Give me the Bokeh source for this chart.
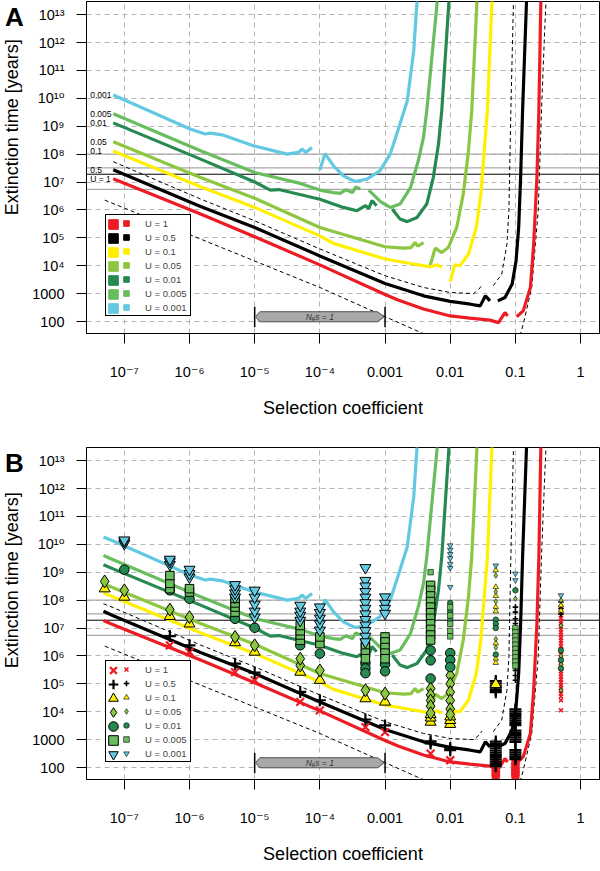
import numpy as np
from bokeh.plotting import figure
from bokeh.models import (Legend, LegendItem, FixedTicker, CustomJSTickFormatter,
                          Span, Range1d)
from bokeh.layouts import column, row
from bokeh.embed import file_html
from bokeh.resources import INLINE
from bokeh.core.properties import value

FONT = "Liberation Sans"
TICK_FONT = "Liberation Sans, DejaVu Sans"
nan = float("nan")

# ---------------- categories / ticks ----------------
u_values = ["1", "0.5", "0.1", "0.05", "0.01", "0.005", "0.001"]
u_colors = ["#ED1C24", "#000000", "#FFF000", "#8DC63F", "#268A50", "#6ABD5E", "#63C9E0"]
u_markers = ["x", "cross", "triangle", "diamond", "circle", "square", "inverted_triangle"]

x_tick_exp = [-7, -6, -5, -4, -3, -2, -1, 0]
x_tick_labels = ["10⁻⁷", "10⁻⁶", "10⁻⁵", "10⁻⁴", "0.001", "0.01", "0.1", "1"]
y_tick_exp = [2, 3, 4, 5, 6, 7, 8, 9, 10, 11, 12, 13]
y_tick_labels = ["100", "1000", "10⁴", "10⁵", "10⁶", "10⁷", "10⁸", "10⁹",
                 "10¹⁰", "10¹¹", "10¹²", "10¹³"]
x_lim_exp = [-7.58, 0.29]
y_lim_exp = [1.57, 13.47]

# ---------------- curves: log10(s), log10(T) ----------------
# first point = start of panel B, panel A starts at the second point
log_s_u1 = [-7.32, -7.17, -5.83, -5.0, -4.0, -3.0, -2.8, -2.41, -2.0, -1.7, -1.39, -1.26, -1.16, -1.12, nan,
            -0.98, -0.88, -0.77, -0.72, -0.67, -0.64, -0.61, -0.59]
log_T_u1 = [7.27, 7.12, 5.85, 5.04, 4.03, 2.97, 2.77, 2.45, 2.2, 2.12, 2.05, 1.96, 2.32, 2.2, nan,
            2.17, 2.38, 3.22, 4.77, 7.16, 9.55, 13.46, 14.0]
log_s_u05 = [-7.32, -7.17, -5.83, -5.0, -4.0, -3.0, -2.41, -2.0, -1.69, -1.54, -1.46, -1.39, nan,
             -1.27, -1.16, -1.05, -0.99, -0.95, -0.92, -0.89, -0.83, -0.8]
log_T_u05 = [7.6, 7.44, 6.12, 5.37, 4.35, 3.36, 2.92, 2.72, 2.62, 2.56, 2.92, 2.74, nan,
             2.74, 2.86, 3.34, 4.18, 5.37, 7.16, 9.55, 13.46, 14.0]
log_s_u01 = [-7.32, -7.17, -5.83, -5.0, -4.0, -3.79, -3.0, -2.61, -2.31, -2.2, -2.13, nan,
             -2.0, -1.93, -1.85, -1.72, -1.6, -1.53, -1.47, -1.43, -1.36, -1.33]
log_T_u01 = [8.26, 8.11, 6.83, 6.09, 5.07, 4.8, 4.24, 4.08, 3.96, 4.03, 3.94, nan,
             3.43, 4.03, 4.0, 4.42, 5.37, 6.57, 8.36, 9.55, 13.46, 14.0]
log_s_u005 = [-7.32, -7.17, -5.83, -5.0, -4.0, -3.0, -2.72, -2.6, -2.54, -2.5, -2.41, nan,
              -2.31, -2.23, -2.13, -2.03, -1.9, -1.8, -1.72, -1.67, -1.59, -1.56]
log_T_u005 = [8.59, 8.44, 7.16, 6.42, 5.37, 4.68, 4.63, 4.65, 4.83, 4.7, 4.83, nan,
              4.0, 4.63, 4.47, 4.65, 5.37, 6.57, 8.12, 9.55, 13.46, 14.0]
log_s_u001 = [-7.32, -7.17, -5.83, -5.0, -4.76, -4.63, -4.0, -3.64, -3.43, -3.3, -3.25, -3.2, -3.13, nan,
              -2.89, -2.77, -2.66, -2.51, -2.36, -2.26, -2.18, -2.13, -2.02, -1.98]
log_T_u001 = [9.27, 9.12, 7.82, 7.0, 6.71, 6.73, 6.38, 6.09, 5.97, 6.15, 6.05, 6.33, 6.15, nan,
              6.03, 5.67, 5.58, 5.73, 6.21, 7.16, 8.36, 9.55, 13.46, 14.0]
log_s_u0005 = [-7.32, -7.17, -5.83, -5.0, -4.3, -4.0, -3.79, -3.69, -3.6, -3.5, -3.45, -3.38, nan,
               -3.25, -3.07, -2.92, -2.77, -2.61, -2.49, -2.41, -2.36, -2.2, -2.15]
log_T_u0005 = [9.6, 9.45, 8.12, 7.34, 6.95, 6.71, 6.62, 6.59, 6.72, 6.62, 6.82, 6.75, nan,
               6.71, 6.3, 6.09, 6.21, 6.8, 7.76, 8.6, 9.55, 13.46, 14.0]
log_s_u0001 = [-7.32, -7.17, -5.99, -5.76, -5.68, -5.5, -5.02, -4.5, -4.33, -4.27, -4.22, -4.12, nan,
               -4.0, -3.92, -3.79, -3.64, -3.46, -3.28, -3.08, -2.92, -2.82, -2.66, -2.56, -2.51, -2.48]
log_T_u0001 = [10.26, 10.12, 8.9, 8.72, 8.75, 8.69, 8.3, 8.0, 8.06, 8.18, 8.06, 8.24, nan,
               7.43, 8.02, 7.58, 7.22, 7.02, 7.1, 7.4, 8.0, 8.72, 9.9, 11.7, 13.46, 14.0]

# dashed reference curves
log_s_upper = [-7.32, -7.17, -5.83, -5.0, -4.0, -3.0, -2.41, -2.0, -1.64, -1.56, -1.51, nan,
               -1.34, -1.21, -1.13, -1.1, -1.08, -1.07, -1.03, -1.0]
log_T_upper = [7.87, 7.73, 6.39, 5.61, 4.6, 3.64, 3.22, 3.04, 3.0, 3.16, 3.31, nan,
               3.28, 3.7, 4.77, 5.97, 8.36, 9.55, 13.46, 14.0]
log_s_lower = [-7.3, -4.0, -2.41, nan, -0.93, -0.88, -0.75, -0.65, -0.6, -0.55, -0.52]
log_T_lower = [6.35, 3.22, 1.56, nan, 1.49, 1.9, 3.22, 5.97, 9.55, 12.5, 14.0]

# horizontal reference levels
hline_gray = [1.0e8, 3.2e7, 5.4e6]
hline_black = [1.9e7]

# N_e s = 1 bracket
ne_s_bounds = [1e-5, 1e-3]
ne_s_level = 10 ** 2.17
ne_s_label = "Nₑs = 1"

# ---------------- panel B simulation points (s, log10 T) ----------------
big_s_u1 = [5e-7, 1e-6, 5e-6, 1e-5, 5e-5, 1e-4, 5e-4, 1e-3, 5e-3, 1e-2] + [5e-2] * 10 + [1e-1] * 9
big_T_u1 = [6.38, 6.14, 5.42, 5.13, 4.35, 4.05, 3.45, 3.27, 2.5, 2.26,
            1.6, 1.68, 1.76, 1.84, 1.92, 2.0, 2.08, 2.16, 2.24, 2.32,
            1.6, 1.68, 1.76, 1.84, 1.92, 2.0, 2.08, 2.16, 2.24]
small_s_u1 = [0.5] * 35
small_T_u1 = [4.05, 4.41, 4.55, 4.65, 4.75, 4.85, 4.95, 5.05, 5.15, 5.25, 5.35, 5.45, 5.55, 5.65,
              5.75, 5.85, 5.95, 6.05, 6.15, 6.25, 6.35, 6.45, 6.55, 6.65, 6.75, 6.85, 6.95, 7.05,
              7.15, 7.25, 7.35, 7.45, 7.55, 7.65, 7.75]

big_s_u05 = [5e-7, 1e-6, 5e-6, 1e-5, 5e-5, 1e-4, 5e-4, 1e-3, 5e-3, 5e-3, 1e-2, 1e-2] + [5e-2] * 18 + [1e-1] * 19
big_T_u05 = [6.71, 6.38, 5.72, 5.4, 4.71, 4.41, 3.72, 3.51, 2.86, 2.94, 2.62, 2.7,
             2.05, 2.13, 2.21, 2.29, 2.37, 2.45, 2.53, 2.61, 2.69, 2.77, 2.85, 2.93,
             4.7, 4.78, 4.86, 4.94, 5.02, 5.1,
             2.3, 2.38, 2.46, 2.54, 2.62, 2.92, 3.0, 3.08, 3.16, 3.24, 3.32,
             3.52, 3.6, 3.68, 3.76, 3.84, 3.92, 4.0, 4.08]
small_s_u05 = [1e-1] * 7 + [0.5] * 3
small_T_u05 = [7.75, 7.57, 7.33, 7.16, 5.48, 5.3, 5.13, 7.93, 7.7, 7.5]

big_s_u01 = [5e-8, 1e-7, 5e-7, 1e-6, 5e-6, 1e-5, 5e-5, 1e-4, 5e-4, 1e-3, 5e-3, 5e-3, 5e-3,
             1e-2, 1e-2, 1e-2, 5e-2]
big_T_u01 = [8.41, 8.11, 7.42, 7.15, 6.48, 6.14, 5.42, 5.13, 4.47, 4.35, 3.63, 3.78, 3.9,
             3.55, 3.69, 3.82, 4.98]
small_s_u01 = [5e-2] * 8 + [0.5] * 2
small_T_u01 = [9.07, 8.47, 8.15, 7.75, 7.6, 6.45, 5.9, 5.75, 7.81, 7.62]

big_s_u005 = [5e-8, 1e-7, 5e-7, 1e-6, 5e-6, 1e-5, 5e-5, 5e-5, 1e-4, 5e-4, 1e-3] + [5e-3] * 5 + [1e-2] * 6
big_T_u005 = [8.67, 8.35, 7.66, 7.39, 6.68, 6.38, 5.66, 5.9, 5.48, 4.77, 4.65,
              4.83, 4.6, 4.4, 4.2, 3.95, 5.3, 5.0, 4.7, 4.4, 4.1, 3.9]
small_s_u005 = [5e-2] * 5 + [1e-1] + [0.5] * 5
small_T_u005 = [8.88, 8.3, 7.95, 6.6, 6.3, 8.05, 7.99, 7.09, 6.0, 5.7, 4.77]

big_s_u001 = [1e-7, 5e-7, 1e-6, 5e-6, 1e-5, 5e-5, 1e-4, 5e-4, 5e-4, 5e-4, 1e-3, 1e-3,
              5e-3, 5e-3, 5e-3, 1e-2, 1e-2, 1e-2]
big_T_u001 = [9.09, 8.35, 8.05, 7.33, 7.01, 6.38, 6.08, 5.73, 5.55, 5.38, 5.7, 5.45,
              6.2, 5.84, 5.19, 6.1, 5.85, 5.6]
small_s_u001 = [1e-2] * 3 + [5e-2] * 4 + [1e-1] + [0.5] * 3
small_T_u001 = [7.9, 7.6, 7.3, 7.3, 7.15, 7.0, 6.05, 8.35, 6.2, 5.85, 5.55]

big_s_u0005 = [5e-7] * 3 + [1e-6] * 2 + [5e-6] * 4 + [5e-5] * 4 + [1e-4] * 2 + [5e-4] * 4 + [1e-3] * 5 + [5e-3] * 11
big_T_u0005 = [8.41, 8.6, 8.88, 8.29, 8.41, 7.57, 7.75, 7.9, 8.06, 6.56, 6.75, 6.9, 7.09, 6.44, 6.68,
               6.45, 6.3, 6.1, 5.9, 6.68, 6.5, 6.3, 6.1, 5.9,
               8.53, 8.35, 8.15, 7.95, 7.75, 7.55, 7.35, 7.15, 6.95, 6.75, 6.57]
small_s_u0005 = [5e-3] + [1e-2] * 5 + [1e-1] * 10
small_T_u0005 = [9.0, 7.75, 7.45, 7.15, 6.9, 6.7, 7.0, 6.85, 6.7, 6.55, 6.4, 6.25, 6.1, 5.95, 5.8, 5.65]

big_s_u0001 = [1e-7] * 3 + [5e-7] * 3 + [1e-6] * 3 + [5e-6] * 4 + [1e-5] * 5 + [5e-5] * 4 + [1e-4] * 5 + [5e-4] * 13 + [1e-3] * 4
big_T_u0001 = [10.02, 10.1, 10.15, 9.27, 9.38, 9.46, 8.82, 8.95, 9.1, 8.1, 8.25, 8.4, 8.55,
               7.39, 7.6, 7.85, 8.1, 8.35, 7.27, 7.45, 7.6, 7.81, 6.92, 7.15, 7.35, 7.55, 7.75,
               9.16, 8.7, 8.5, 8.3, 8.1, 7.9, 7.7, 7.5, 7.3, 7.1, 6.9, 6.7, 6.5,
               8.11, 7.88, 7.7, 7.52]
small_s_u0001 = [1e-2] * 7 + [5e-2] + [1e-1] * 2 + [0.5]
small_T_u0001 = [9.96, 9.8, 9.65, 9.5, 9.3, 9.15, 8.47, 9.24, 8.95, 8.71, 8.17]

curves = [(log_s_u1, log_T_u1), (log_s_u05, log_T_u05), (log_s_u01, log_T_u01),
          (log_s_u005, log_T_u005), (log_s_u001, log_T_u001), (log_s_u0005, log_T_u0005),
          (log_s_u0001, log_T_u0001)]
big_pts = [(big_s_u1, big_T_u1), (big_s_u05, big_T_u05), (big_s_u01, big_T_u01),
           (big_s_u005, big_T_u005), (big_s_u001, big_T_u001), (big_s_u0005, big_T_u0005),
           (big_s_u0001, big_T_u0001)]
small_pts = [(small_s_u1, small_T_u1), (small_s_u05, small_T_u05), (small_s_u01, small_T_u01),
             (small_s_u005, small_T_u005), (small_s_u001, small_T_u001), (small_s_u0005, small_T_u0005),
             (small_s_u0001, small_T_u0001)]

big_sizes = {"x": 11, "cross": 12, "triangle": 11, "diamond": 13, "circle": 9.5,
             "square": 8.5, "inverted_triangle": 11}

# ---------------- layout (pixels) ----------------
STRIP_W = 28
MAIN_W = 572
ROW_PITCH = 14          # legend row pitch
LEG_BOTTOM = 17         # legend bottom offset from frame bottom
LEG_LEFT = 19           # legend left offset from frame left
LEG_PAD = 1

FMT = """
const e = Math.round(Math.log10(tick));
const i = exps.indexOf(e);
return i >= 0 ? labels[i] : "";
"""


def pw(a):
    return np.power(10.0, np.asarray(a, dtype=float))


def make_strip(letter, height, top, bottom):
    """Left strip holding the panel letter and the y-axis title."""
    s = figure(width=STRIP_W, height=height, x_range=Range1d(0, STRIP_W), y_range=Range1d(0, height),
               output_backend="svg", toolbar_location=None, x_axis_location=None, y_axis_location=None,
               min_border_left=0, min_border_right=0, min_border_top=0, min_border_bottom=0,
               background_fill_color="white", border_fill_color="white")
    s.outline_line_color = None
    s.xgrid.visible = False
    s.ygrid.visible = False
    s.text(x=[14], y=[height - 20], text=[letter], text_font=value(FONT), text_font_size="26px",
           text_font_style="bold", text_align="center", text_baseline="middle", text_color="black")
    frame_mid = bottom + (height - top - bottom) / 2.0
    s.text(x=[11], y=[frame_mid], text=["Extinction time [years]"], angle=np.pi / 2,
           text_font=value(FONT), text_font_size="18px", text_align="center",
           text_baseline="middle", text_color="black")
    return s


def make_panel(height, top, bottom, panel_b):
    p = figure(width=MAIN_W, height=height, x_axis_type="log", y_axis_type="log",
               x_range=Range1d(float(pw(x_lim_exp[0])), float(pw(x_lim_exp[1]))),
               y_range=Range1d(float(pw(y_lim_exp[0])), float(pw(y_lim_exp[1]))),
               output_backend="svg", toolbar_location=None,
               min_border_left=58, min_border_right=1, min_border_top=top, min_border_bottom=bottom,
               background_fill_color="white", border_fill_color="white")
    p.outline_line_color = "black"
    p.outline_line_width = 1
    p.outline_line_alpha = 1

    xa, ya = p.xaxis[0], p.yaxis[0]
    xa.ticker = FixedTicker(ticks=[float(v) for v in pw(x_tick_exp)])
    ya.ticker = FixedTicker(ticks=[float(v) for v in pw(y_tick_exp)])
    xa.formatter = CustomJSTickFormatter(args=dict(exps=x_tick_exp, labels=x_tick_labels), code=FMT)
    ya.formatter = CustomJSTickFormatter(args=dict(exps=y_tick_exp, labels=y_tick_labels), code=FMT)
    for ax in (xa, ya):
        ax.major_label_text_font = TICK_FONT
        ax.major_label_text_font_size = "14.5px"
        ax.major_label_text_color = "black"
        ax.axis_label_text_font = FONT
        ax.axis_label_text_font_size = "18px"
        ax.axis_label_text_font_style = "normal"
        ax.axis_label_text_color = "black"
        ax.major_tick_out = 10
        ax.major_tick_in = 0
        ax.minor_tick_line_color = None
        ax.major_tick_line_color = "black"
        ax.axis_line_color = "black"
    xa.major_label_standoff = 20
    ya.major_label_standoff = 12
    xa.axis_label_standoff = 15
    xa.axis_label = "Selection coefficient"
    for g in (p.xgrid[0], p.ygrid[0]):
        g.grid_line_color = "#B5B5B5"
        g.grid_line_dash = "5 4"
        g.grid_line_width = 1

    for yv in hline_gray:
        p.add_layout(Span(location=yv, dimension="width", line_color="#A8A8A8",
                          line_width=1.3, level="underlay"))
    for yv in hline_black:
        p.add_layout(Span(location=yv, dimension="width", line_color="black",
                          line_width=1, level="underlay"))

    start = 0 if panel_b else 1
    # dashed reference curves
    p.line(pw(log_s_upper[start:]), pw(log_T_upper[start:]), line_color="black",
           line_width=1, line_dash="4 3")
    p.line(pw(log_s_lower), pw(log_T_lower), line_color="black", line_width=1, line_dash="4 3")

    # model curves (drawn from U=0.001 up to U=1)
    for (ls, lt), col in list(zip(curves, u_colors))[::-1]:
        p.line(pw(ls[start:]), pw(lt[start:]), line_color=col, line_width=3.2)

    # N_e s = 1 bracket
    x0, x1 = ne_s_bounds
    hh = 10 ** 0.18
    c = ne_s_level
    p.segment(x0=ne_s_bounds, x1=ne_s_bounds, y0=[c / 10 ** 0.38] * 2, y1=[c * 10 ** 0.36] * 2,
              line_color="black", line_width=1.5)
    p.patch([x0 * 1.03, x0 * 1.2, x1 / 1.3, x1 / 1.03, x1 / 1.3, x0 * 1.2],
            [c, c * hh, c * hh, c, c / hh, c / hh],
            fill_color="#A8A8A8", line_color="#505050", line_width=1)
    p.text(x=[float(np.sqrt(x0 * x1))], y=[c], text=[ne_s_label], text_font=value(FONT),
           text_font_size="8.5px", text_font_style="italic", text_align="center",
           text_baseline="middle", text_color="#333333")

    big_renderers, small_renderers = [], []
    if not panel_b:
        # curve labels at left
        lab = ["U = 1"] + u_values[1:]
        p.text(x=[3.0e-8] * 7, y=[float(pw(lt[1])) for ls, lt in curves], text=lab,
               text_font=value(FONT), text_font_size="8.5px", text_align="left",
               text_baseline="middle", text_color="black")
        for col in u_colors:
            # legend-only swatches (no visible data point)
            big_renderers.append(p.scatter(x=[nan], y=[nan], marker="square", size=8,
                                           fill_color=col, line_color=col))
            small_renderers.append(p.scatter(x=[nan], y=[nan], marker="square", size=4,
                                             fill_color=col, line_color=col))
    else:
        for (sb, tb), (ss, ts), col, mk in zip(big_pts, small_pts, u_colors, u_markers):
            line_marker = mk in ("x", "cross")
            rs = p.scatter(x=ss, y=pw(ts), marker=mk, size=5.5,
                           fill_color=col, line_color=(col if line_marker else "black"),
                           line_width=(1.6 if line_marker else 0.6))
            rb = p.scatter(x=sb, y=pw(tb), marker=mk, size=big_sizes[mk],
                           fill_color=col, line_color=(col if line_marker else "black"),
                           line_width=(2.2 if line_marker else 1))
            big_renderers.append(rb)
            small_renderers.append(rs)

    n = len(u_values)
    leg_h = 2 * LEG_PAD + n * ROW_PITCH
    small_leg = Legend(items=[LegendItem(label=value("U = " + u), renderers=[r])
                              for u, r in zip(u_values, small_renderers)],
                       location=(LEG_LEFT, LEG_BOTTOM), padding=LEG_PAD, spacing=0,
                       glyph_width=38, glyph_height=ROW_PITCH, label_height=ROW_PITCH,
                       label_width=44, label_standoff=0, margin=0,
                       label_text_font=FONT, label_text_font_size="9.5px",
                       border_line_color="black", border_line_width=1, border_line_alpha=1,
                       background_fill_color="white", background_fill_alpha=1)
    p.add_layout(small_leg)
    top_y = LEG_BOTTOM + leg_h - LEG_PAD   # first row top (from frame bottom)
    for i, r in enumerate(big_renderers):
        centre = top_y - ROW_PITCH / 2.0 - i * ROW_PITCH
        big_leg = Legend(items=[LegendItem(label=value(" "), renderers=[r])],
                         location=(LEG_LEFT - 4, centre - 12), padding=0, spacing=0,
                         glyph_width=24, glyph_height=24, label_height=24, label_width=1,
                         label_standoff=0, margin=0, label_text_font_size="2px",
                         border_line_color=None, background_fill_alpha=0)
        p.add_layout(big_leg)
    return p


HA, TOPA, BOTA = 441, 1, 108
HB, TOPB, BOTB = 430, 6, 92
pA = make_panel(HA, TOPA, BOTA, False)
pB = make_panel(HB, TOPB, BOTB, True)
sA = make_strip("A", HA, TOPA, BOTA)
sB = make_strip("B", HB, TOPB, BOTB)

layout = column(row(sA, pA), row(sB, pB))
open("out.html", "w").write(file_html(layout, INLINE))
